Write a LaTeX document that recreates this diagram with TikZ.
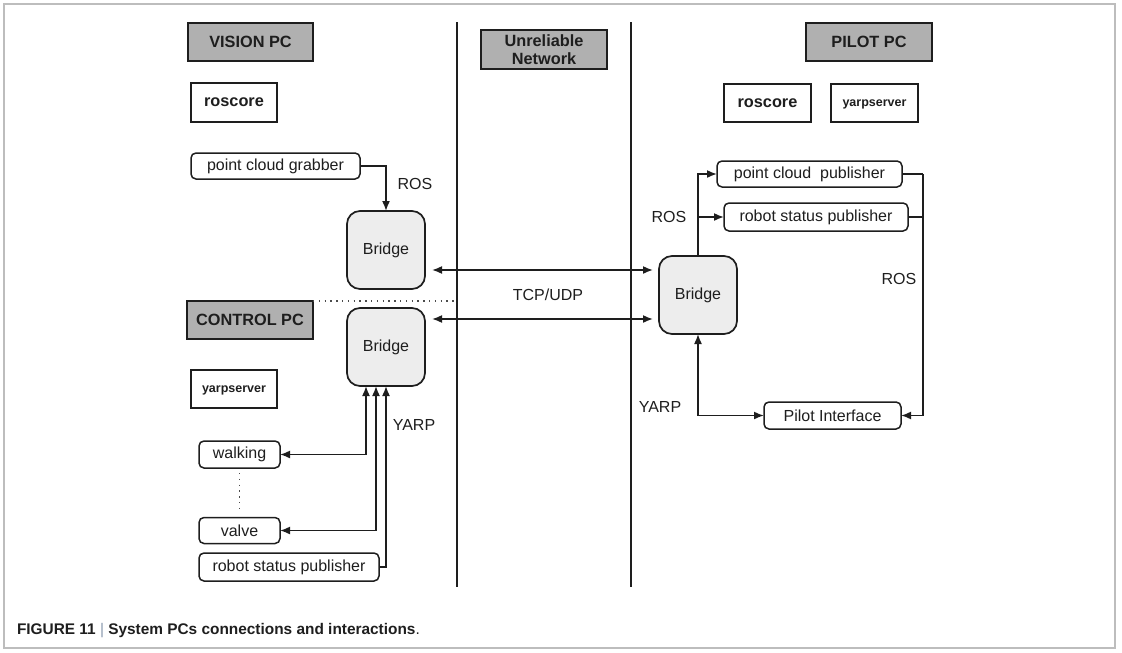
\documentclass[tikz,border=0pt]{standalone}
\usepackage{fontspec}
\setmainfont{Liberation Sans}
\usetikzlibrary{arrows.meta,calc}
\definecolor{ink}{HTML}{1E1E1E}
\definecolor{hdr}{HTML}{B0B0B0}
\definecolor{brg}{HTML}{EDEDED}
\definecolor{framecol}{HTML}{BDBDBD}
\definecolor{capbar}{HTML}{8A9BB0}

\begin{document}
\begin{tikzpicture}[x=1pt,y=-1pt,
  every node/.style={inner sep=0pt, outer sep=0pt, text=ink},
  lbl/.style={font=\fontsize{16}{19}\selectfont},
  hdrbox/.style={draw=ink, line width=1.7pt, fill=hdr, align=center,
    font=\bfseries\fontsize{16.3}{18}\selectfont},
  srvbox/.style={draw=ink, line width=1.8pt, fill=white, text depth=0pt,
    font=\bfseries\fontsize{16.3}{19}\selectfont},
  smallsrv/.style={srvbox, font=\bfseries\fontsize{12.5}{14}\selectfont},
  procbox/.style={draw=ink, line width=1.5pt, fill=white, rounded corners=5pt,
    font=\fontsize{16}{19}\selectfont},
  bridgebox/.style={draw=ink, line width=1.7pt, fill=brg, rounded corners=13pt,
    minimum width=78pt, minimum height=78pt, font=\fontsize{16}{19}\selectfont},
  conn/.style={draw=ink, line width=1.6pt},
  arr/.style={conn, -{Latex[length=10pt,width=8pt]}},
  arrboth/.style={conn, {Latex[length=10pt,width=8pt]}-{Latex[length=10pt,width=8pt]}},
  sepline/.style={draw=ink, line width=2.4pt},
  dotline/.style={draw=ink!80, line width=1.3pt, dash pattern=on 1.3pt off 4.5pt},
]
\useasboundingbox (0,0) rectangle (1122,653);
\draw[framecol, line width=1.2pt] (4,4) rectangle (1115,648);

% network separators
\coordinate (sepLtop) at (457,22);
\coordinate (sepLbot) at (457,587);
\coordinate (sepRtop) at (631,22);
\coordinate (sepRbot) at (631,587);
\draw[sepline] (sepLtop) -- (sepLbot);
\draw[sepline] (sepRtop) -- (sepRbot);

% headers
\node[hdrbox, minimum width=125pt, minimum height=38pt] (vision) at (250.5,42) {VISION PC};
\node[hdrbox, minimum width=126pt, minimum height=38pt] (control) at (250,320) {CONTROL PC};
\node[hdrbox, minimum width=126pt, minimum height=39pt] (unrel) at (544,49.5) {Unreliable\\Network};
\node[hdrbox, minimum width=126pt, minimum height=38pt] (pilot) at (869,42) {PILOT PC};

% vision PC
\node[srvbox, minimum width=86pt, minimum height=39pt] (roscoreV) at (234,102.5) {roscore};
\node[procbox, minimum width=169pt, minimum height=26pt] (pcg) at (275.5,166) {point cloud grabber};
\node[bridgebox] (bridgeV) at (386,250) {Bridge};
\draw[arr] (pcg.east) -| (bridgeV.north);
\node[lbl] (rosV) at (415,184) {ROS};

% control PC
\node[bridgebox] (bridgeC) at (386,347) {Bridge};
\node[smallsrv, minimum width=86pt, minimum height=38pt] (yarpC) at (234,389) {yarpserver};
\node[procbox, minimum width=81pt, minimum height=27pt] (walking) at (239.5,454.5) {walking};
\node[procbox, minimum width=81pt, minimum height=26pt] (valve) at (239.5,530.5) {valve};
\node[procbox, minimum width=180pt, minimum height=28pt] (rspC) at (289,567) {robot status publisher};
\draw[arrboth] (walking.east) -| ($(bridgeC.south)+(-20,0)$);
\draw[arrboth] (valve.east) -| ($(bridgeC.south)+(-10,0)$);
\draw[arr] (rspC.east) -| (bridgeC.south);
\draw[dotline] ($(walking.south)+(0,5)$) -- ($(valve.north)+(0,-7)$);
\node[lbl] (yarpLblC) at (414,425) {YARP};
\draw[dotline] (control.north east) -- (control.north east -| sepLtop);

% pilot PC
\node[srvbox, minimum width=87pt, minimum height=38pt] (roscoreP) at (767.5,103) {roscore};
\node[smallsrv, minimum width=87pt, minimum height=38pt] (yarpP) at (874.5,103) {yarpserver};
\node[procbox, minimum width=185pt, minimum height=26pt] (pcp) at (809.5,174) {point cloud\ \ publisher};
\node[procbox, minimum width=184pt, minimum height=28pt] (rspP) at (816,217) {robot status publisher};
\node[bridgebox] (bridgeP) at (698,295) {Bridge};
\node[procbox, minimum width=137pt, minimum height=27pt] (pilotif) at (832.5,415.5) {Pilot Interface};

\draw[arr] (bridgeP.north) |- (pcp.west);
\draw[arr] (bridgeP.north |- rspP.west) -- (rspP.west);
\node[lbl] (rosPl) at (669,217) {ROS};
\coordinate (collect) at (923,174);
\draw[conn] (pcp.east) -- (collect);
\draw[conn] (rspP.east) -- (rspP.east -| collect);
\draw[arr] (collect) |- (pilotif.east);
\node[lbl] (rosPr) at (899,279) {ROS};
\draw[arrboth] (bridgeP.south) |- (pilotif.west);
\node[lbl] (yarpLblP) at (660,407) {YARP};

% links across the network
\draw[arrboth] ($(bridgeV.east)+(7,20)$) -- ($(bridgeP.west)+(-6,-25)$);
\draw[arrboth] ($(bridgeC.east)+(7,-28)$) -- ($(bridgeP.west)+(-6,24)$);
\node[lbl] (tcp) at (548,295) {TCP/UDP};

% caption
\node[anchor=base west, font=\fontsize{15.4}{18}\selectfont, text=ink] (caption) at (17,634)
  {\textbf{FIGURE 11} {\color{capbar}|} \textbf{System PCs connections and interactions}.};
\end{tikzpicture}
\end{document}
